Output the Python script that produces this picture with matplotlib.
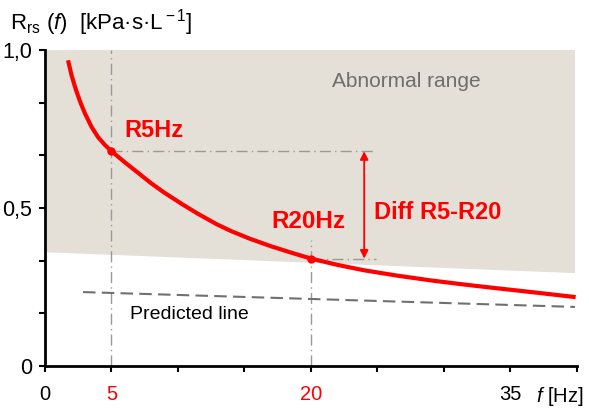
import numpy as np
from matplotlib import pyplot as plt
from matplotlib.patches import Polygon

plt.rcParams['font.family'] = ['Liberation Sans', 'DejaVu Sans']
plt.rcParams['mathtext.fontset'] = 'custom'
plt.rcParams['mathtext.rm'] = 'Liberation Sans'
plt.rcParams['mathtext.it'] = 'Liberation Sans:italic'

# resistance curve
f_curve = [1.73, 2.0, 2.3, 2.63, 3.0, 3.5, 4.0, 4.5, 5.0, 6.0, 6.9, 8.0, 9.0, 10.4, 11.5,
           12.9, 14.0, 15.4, 17.0, 18.5, 20.0, 22.0, 24.0, 26.5, 29.0, 31.5, 34.0, 37.0, 39.9]
r_curve = [0.968, 0.920, 0.878, 0.838, 0.800, 0.757, 0.724, 0.700, 0.680, 0.645, 0.615, 0.578,
           0.548, 0.510, 0.482, 0.449, 0.427, 0.403, 0.379, 0.359, 0.340, 0.320, 0.303, 0.286,
           0.271, 0.258, 0.246, 0.232, 0.218]

# abnormal range band
band_f = [0.15, 39.85, 39.85, 0.15]
band_r = [1.0, 1.006, 0.294, 0.36]

# predicted line
pred_f = [2.86, 39.85]
pred_r = [0.234, 0.187]

r5 = 0.68
r20 = 0.34

fig = plt.figure(figsize=(5.89, 4.08), dpi=100)
ax = fig.add_axes((0.0764, 0.103, 0.9032, 0.774))
ax.set_xlim(0, 40)
ax.set_ylim(0, 1.0)

ax.add_patch(Polygon(np.column_stack([band_f, band_r]), closed=True,
                     facecolor="#e4e0d7", edgecolor="none", zorder=0))

dashdot = dict(color="#999999", lw=1, ls=(0, (8, 3, 1, 3)), zorder=1)
ax.plot([5, 5], [0, 1.0], **dashdot)
ax.plot([20, 20], [0, 0.40], **dashdot)
ax.plot([5, 24.9], [r5, r5], **dashdot)
ax.plot([20, 24.9], [r20, r20], **dashdot)

ax.plot(pred_f, pred_r, color="#707070", lw=1.5, ls=(0, (6, 3)), zorder=2)
ax.plot(f_curve, r_curve, color="#ff0000", lw=3, solid_capstyle="butt",
        solid_joinstyle="round", zorder=3)
ax.plot([5, 20], [r5, r20], "o", color="#ff0000", ms=5, zorder=4)

ax.annotate("", xy=(24.0, r20), xytext=(24.0, r5),
            arrowprops=dict(arrowstyle="<|-|>", color="#ff0000", lw=1.3,
                            mutation_scale=12, shrinkA=0, shrinkB=0))

ax.text(6.0, 0.745, "R5Hz", color="#ff0000", fontsize=17, fontweight="bold", va="center")
ax.text(17.0, 0.456, "R20Hz", color="#ff0000", fontsize=17.5, fontweight="bold", va="center")
ax.text(24.7, 0.487, "Diff R5-R20", color="#ff0000", fontsize=17, fontweight="bold", va="center")
ax.text(21.6, 0.902, "Abnormal range", color="#6e6e6e", fontsize=15, va="center")
ax.text(6.4, 0.164, "Predicted line", color="black", fontsize=14, va="center")

for s in ["top", "right"]:
    ax.spines[s].set_visible(False)
for s in ["left", "bottom"]:
    ax.spines[s].set_linewidth(2)

ax.set_xticks([0, 5, 10, 15, 20, 25, 30, 35, 40])
ax.set_xticklabels(["0", "5", "", "", "20", "", "", "35", ""], fontsize=14.5)
for lab, c in zip(ax.get_xticklabels(), ["black", "red", "k", "k", "red", "k", "k", "black", "k"]):
    lab.set_color(c)
ax.tick_params(axis="x", length=4, width=1.5, pad=10)

ax.set_yticks([0, 0.5, 1.0])
ax.set_yticklabels(["0", "0,5", "1,0"], fontsize=15.5)
ax.set_yticks(np.arange(0, 1.01, 1 / 6), minor=True)
ax.tick_params(axis="y", which="both", length=4, width=1.5, pad=5)

ax.text(36.9, -0.097, "$f$ [Hz]", fontsize=14.5, va="center", ha="left", clip_on=False)
fig.text(0.017, 0.945, r"R$_{\rm rs}$ ($f$)  [kPa·s·L$^{\rm -1}$]", fontsize=16, va="center")

fig.savefig("out.png", dpi=100)
